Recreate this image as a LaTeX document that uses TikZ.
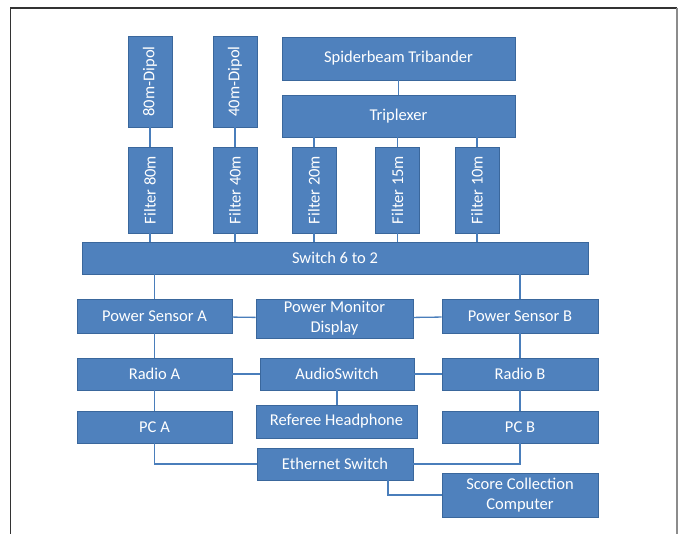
\documentclass[tikz,border=0pt]{standalone}
\usepackage{fontspec}
\setmainfont{Carlito}
\definecolor{boxblue}{HTML}{4F81BD}
\definecolor{boxline}{HTML}{3A679C}
\definecolor{wireblue}{HTML}{4A7EBB}

\begin{document}
\begin{tikzpicture}[x=1pt,y=-1pt,
  blk/.style={draw=boxline,fill=boxblue,text=white,line width=0.8pt,inner sep=0pt,
    align=center,font=\fontsize{16.5}{20}\selectfont},
  vblk/.style={blk,rotate=90,minimum height=44},
  wire/.style={draw=wireblue,line width=1.3pt}]
\useasboundingbox (0,0) rectangle (685,534);
\draw[line width=1.5pt,black!80] (10.5,534) -- (10.5,8) -- (677,8);
\draw[line width=1.8pt,black!45] (677,8) -- (677,534);

\node[vblk,minimum width=91] (dip80) at (150,81.5) {80m-Dipol};
\node[vblk,minimum width=91] (dip40) at (235,81.5) {40m-Dipol};
\node[blk,minimum width=233,minimum height=43] (spider) at (398.5,58.5) {Spiderbeam Tribander};
\node[blk,minimum width=233,minimum height=42] (triplex) at (398.5,116) {Triplexer};

\node[vblk,minimum width=86] (f80) at (150,190) {Filter 80m};
\node[vblk,minimum width=86] (f40) at (235,190) {Filter 40m};
\node[vblk,minimum width=86] (f20) at (314,190) {Filter 20m};
\node[vblk,minimum width=86] (f15) at (397.5,190) {Filter 15m};
\node[vblk,minimum width=86] (f10) at (477,190) {Filter 10m};

\node[blk,minimum width=506,minimum height=32] (switch) at (335,258) {Switch 6 to 2};

\node[blk,minimum width=155,minimum height=34] (psa) at (154.5,316) {Power Sensor A};
\node[blk,minimum width=157,minimum height=39] (pmd) at (334.5,318.5) {Power Monitor\\Display};
\node[blk,minimum width=156,minimum height=34] (psb) at (520,316) {Power Sensor B};

\node[blk,minimum width=155,minimum height=32] (radioa) at (154.5,374) {Radio A};
\node[blk,minimum width=154,minimum height=32] (audio) at (337,374) {AudioSwitch};
\node[blk,minimum width=156,minimum height=32] (radiob) at (520,374) {Radio B};

\node[blk,minimum width=161,minimum height=33] (referee) at (336.5,421.5) {Referee Headphone};
\node[blk,minimum width=155,minimum height=32] (pca) at (154.5,427) {PC A};
\node[blk,minimum width=156,minimum height=32] (pcb) at (520,427) {PC B};

\node[blk,minimum width=156,minimum height=32] (ether) at (335,464) {Ethernet Switch};
\node[blk,minimum width=156,minimum height=44] (score) at (520,495) {Score Collection\\Computer};

\draw[wire] (dip80) -- (f80);
\draw[wire] (dip40) -- (f40);
\draw[wire] (spider) -- (triplex);
\draw[wire] (triplex.south -| f20) -- (f20);
\draw[wire] (triplex.south -| f15) -- (f15);
\draw[wire] (triplex.south -| f10) -- (f10);

\draw[wire] (f80) -- (switch.north -| f80);
\draw[wire] (f40) -- (switch.north -| f40);
\draw[wire] (f20) -- (switch.north -| f20);
\draw[wire] (f15) -- (switch.north -| f15);
\draw[wire] (f10) -- (switch.north -| f10);

\draw[wire] (switch.south -| psa) -- (psa);
\draw[wire] (switch.south -| psb) -- (psb);
\draw[wire] (psa) -- (pmd);
\draw[wire] (pmd) -- (psb);

\draw[wire] (psa) -- (radioa);
\draw[wire] (psb) -- (radiob);
\draw[wire] (radioa) -- (audio);
\draw[wire] (audio) -- (radiob);
\draw[wire] (audio) -- (audio.south |- referee.north);

\draw[wire] (radioa) -- (pca);
\draw[wire] (radiob) -- (pcb);
\draw[wire] (pca.south) |- (ether.west);
\draw[wire] (pcb.south) |- (ether.east);
\draw[wire] ([xshift=53]ether.south) |- (score.west);
\end{tikzpicture}
\end{document}
